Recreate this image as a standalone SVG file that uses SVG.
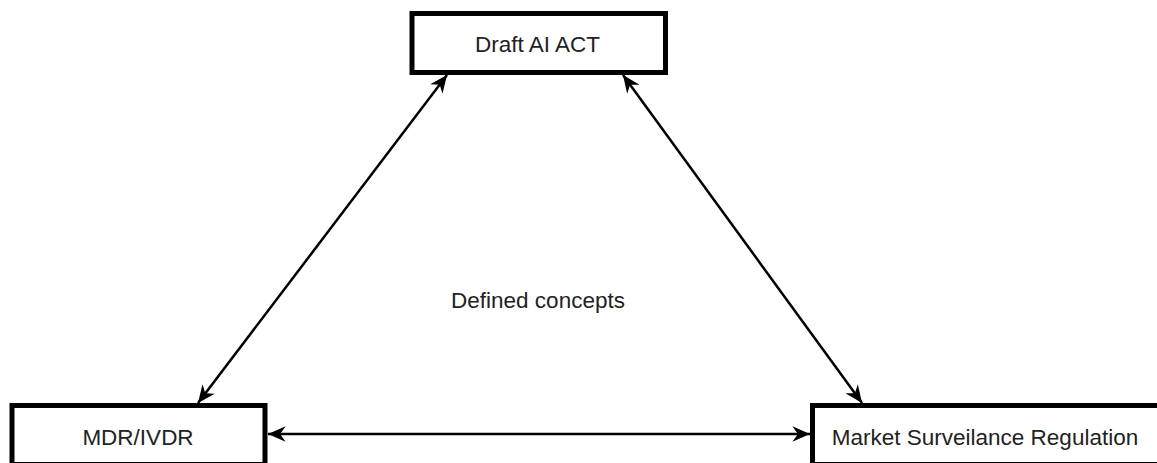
<svg xmlns="http://www.w3.org/2000/svg" width="1157" height="463" viewBox="0 0 1157 463">
<style>
.box{fill:#fff;stroke:#000;stroke-width:5}
.lbl{font-family:"Liberation Sans",Arial,sans-serif;font-size:22.5px;fill:#222;text-anchor:middle}
.conn{stroke:#000;stroke-width:2.5;fill:none;marker-start:url(#ah);marker-end:url(#ah)}
</style>
<defs>
<marker id="ah" markerUnits="userSpaceOnUse" markerWidth="22" markerHeight="22" viewBox="-18 -9 20 18" refX="0" refY="0" orient="auto-start-reverse">
<path d="M0,0 L-16,-7 L-11,0 L-16,7 Z" fill="#000"/>
</marker>
</defs>
<rect width="1157" height="463" fill="#fff"/>
<g id="connectors">
<line class="conn" x1="198" y1="403" x2="447" y2="75"/>
<line class="conn" x1="623" y1="75" x2="862" y2="403"/>
<line class="conn" x1="268" y1="434" x2="810" y2="434"/>
</g>
<g id="draft-ai-act">
<rect class="box" x="412" y="13.5" width="253.5" height="59"/>
<text class="lbl" x="537.5" y="52">Draft AI ACT</text>
</g>
<g id="mdr-ivdr">
<rect class="box" x="12" y="405.5" width="253" height="59"/>
<text class="lbl" x="138" y="445">MDR/IVDR</text>
</g>
<g id="market-surveilance-regulation">
<rect class="box" x="812.5" y="405.5" width="350" height="59"/>
<text class="lbl" x="985" y="445">Market Surveilance Regulation</text>
</g>
<g id="defined-concepts">
<text class="lbl" x="538" y="308">Defined concepts</text>
</g>
</svg>
